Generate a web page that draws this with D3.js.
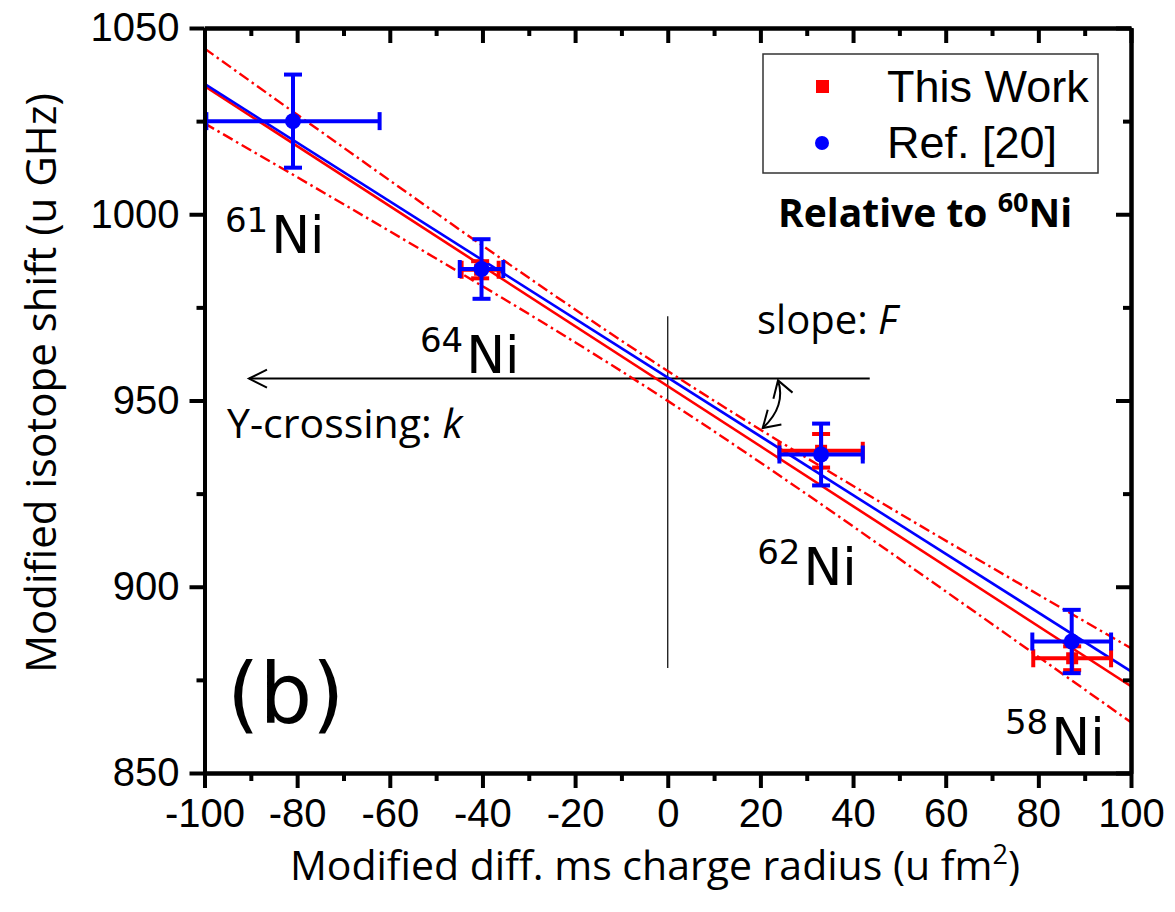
<!DOCTYPE html>
<html>
<head>
<meta charset="utf-8">
<script src="https://cdn.jsdelivr.net/npm/d3@7"></script>
<style>
  html, body { margin: 0; padding: 0; background: #fff; }
  svg { display: block; }
</style>
</head>
<body>
<svg id="chart" width="1175" height="912"></svg>
<script>
// ---- data ----------------------------------------------------------------
// This work (red squares): 64Ni, 62Ni, 58Ni
const workX    = [-40.5, 33.1, 87.3];
const workY    = [985.1, 936.5, 880.8];
const workXErr = [4.0, 9.0, 8.4];
const workYErr = [2.3, 4.5, 3.2];

// Ref. [20] (blue circles): 61Ni, 64Ni, 62Ni, 58Ni
const refX    = [-80.9, -40.2, 33.1, 87.2];
const refY    = [1025.0, 985.3, 935.5, 885.3];
const refXErr = [18.7, 4.7, 9.0, 8.5];
const refYErr = [12.5, 8.0, 8.3, 8.5];

// Linear fits, evaluated at the ends of the x range
const fitX     = [-100, 100];
const workFitY = [1034.4, 873.3];
const refFitY  = [1035.0, 877.3];

// Confidence band of the "This work" fit
const bandX     = [-100, -50, 0, 50, 100];
const bandUpper = [1044.5, 1000.3, 957.9, 919.7, 883.5];
const bandLower = [1024.4, 988.1, 949.9, 907.5, 863.6];

// Isotope labels: mass number and baseline anchor (data coords)
const isoMass   = ["61", "64", "62", "58"];
const isoLabelX = [-95.6, -53.5, 19.3, 72.8];
const isoLabelY = [989.6, 957.4, 900.5, 854.8];

// Axis ticks
const xTicks = [-100, -80, -60, -40, -20, 0, 20, 40, 60, 80, 100];
const xMinor = [-90, -70, -50, -30, -10, 10, 30, 50, 70, 90];
const yTicks = [850, 900, 950, 1000, 1050];
const yMinor = [875, 925, 975, 1025];

// Annotation geometry (data coords)
const crossY = 955.9;
const crossLineX = [43.6, -90.4];
const vertLineY = [972.6, 878.2];
const slopeArrowX = [23.8, 20.5];
const slopeArrowY = [955.4, 942.6];

// ---- layout --------------------------------------------------------------
const svg = d3.select("#chart");
const pLeft = 204.5, pRight = 1131, pTop = 28, pBottom = 773;
const x = d3.scaleLinear().domain([-100, 100]).range([pLeft, pRight]);
const y = d3.scaleLinear().domain([850, 1050]).range([pBottom, pTop]);

const RED = "#ff0000", BLUE = "#0000ff";
const tickFont = "'Liberation Sans', Arial, sans-serif";
const textFont = "'Open Sans', sans-serif";
const isoFont = "'DejaVu Sans', sans-serif";

const defs = svg.append("defs");
defs.append("clipPath").attr("id", "plotClip")
  .append("rect").attr("x", pLeft).attr("y", pTop)
  .attr("width", pRight - pLeft).attr("height", pBottom - pTop);

// ---- annotations: axis-crossing lines and slope arrow --------------------
defs.append("marker").attr("id", "chev")
  .attr("markerUnits", "userSpaceOnUse")
  .attr("viewBox", "-22 -12 26 24").attr("refX", 0).attr("refY", 0)
  .attr("markerWidth", 26).attr("markerHeight", 24)
  .attr("orient", "auto")
  .append("path").attr("d", "M-18,-9 L0,0 L-18,9")
  .attr("fill", "none").attr("stroke", "#000").attr("stroke-width", 2);

const ann = svg.append("g");
ann.append("line")
  .attr("x1", x(crossLineX[0])).attr("x2", x(crossLineX[1]))
  .attr("y1", y(crossY)).attr("y2", y(crossY))
  .attr("stroke", "#000").attr("stroke-width", 2)
  .attr("marker-end", "url(#chev)");
ann.append("line")
  .attr("x1", x(0)).attr("x2", x(0))
  .attr("y1", y(vertLineY[0])).attr("y2", y(vertLineY[1]))
  .attr("stroke", "#000").attr("stroke-width", 1.2);

// curved double arrow between the horizontal line and the fit
const p0 = [x(slopeArrowX[0]), y(slopeArrowY[0])];
const p1 = [x(slopeArrowX[1]), y(slopeArrowY[1])];
const ctrl = [(p0[0] + p1[0]) / 2 + 16, (p0[1] + p1[1]) / 2 + 2];
ann.append("path")
  .attr("d", `M${p0[0]},${p0[1]} Q${ctrl[0]},${ctrl[1]} ${p1[0]},${p1[1]}`)
  .attr("fill", "none").attr("stroke", "#000").attr("stroke-width", 2);
function chevron(tip, from) {
  const dx = tip[0] - from[0], dy = tip[1] - from[1];
  const len = Math.hypot(dx, dy), ux = dx / len, uy = dy / len;
  const L = 19, a = 32 * Math.PI / 180;
  const arm = s => {
    const c = Math.cos(s * a), sn = Math.sin(s * a);
    const rx = ux * c - uy * sn, ry = ux * sn + uy * c;
    return [tip[0] - L * rx, tip[1] - L * ry];
  };
  const l = arm(1), r = arm(-1);
  ann.append("path").attr("d", `M${l[0]},${l[1]} L${tip[0]},${tip[1]} L${r[0]},${r[1]}`)
    .attr("fill", "none").attr("stroke", "#000").attr("stroke-width", 2);
}
chevron(p0, ctrl);
chevron(p1, ctrl);

// ---- fits and band -------------------------------------------------------
const plot = svg.append("g").attr("clip-path", "url(#plotClip)");
const bandLine = d3.line().curve(d3.curveNatural)
  .x((d, i) => x(bandX[i])).y(d => y(d));
[bandUpper, bandLower].forEach(b => {
  plot.append("path").attr("d", bandLine(b))
    .attr("fill", "none").attr("stroke", RED).attr("stroke-width", 2.4)
    .attr("stroke-dasharray", "11 4 2.5 4");
});
const fitLine = d3.line().x((d, i) => x(fitX[i])).y(d => y(d));
plot.append("path").attr("d", fitLine(workFitY))
  .attr("fill", "none").attr("stroke", RED).attr("stroke-width", 2.6);
plot.append("path").attr("d", fitLine(refFitY))
  .attr("fill", "none").attr("stroke", BLUE).attr("stroke-width", 2.6);

// ---- error bars and markers ----------------------------------------------
function errorBars(g, xs, ys, xe, ye, color) {
  const cap = 9;
  xs.forEach((xv, i) => {
    const cx = x(xv), cy = y(ys[i]);
    const xl = x(xv - xe[i]), xr = x(xv + xe[i]);
    const yt = y(ys[i] + ye[i]), yb = y(ys[i] - ye[i]);
    const s = g.append("g").attr("stroke", color).attr("stroke-width", 4).attr("fill", "none");
    s.append("line").attr("x1", xl).attr("x2", xr).attr("y1", cy).attr("y2", cy);
    s.append("line").attr("x1", cx).attr("x2", cx).attr("y1", yt).attr("y2", yb);
    s.append("line").attr("x1", xl).attr("x2", xl).attr("y1", cy - cap).attr("y2", cy + cap);
    s.append("line").attr("x1", xr).attr("x2", xr).attr("y1", cy - cap).attr("y2", cy + cap);
    s.append("line").attr("x1", cx - cap).attr("x2", cx + cap).attr("y1", yt).attr("y2", yt);
    s.append("line").attr("x1", cx - cap).attr("x2", cx + cap).attr("y1", yb).attr("y2", yb);
  });
}
const marks = svg.append("g");
errorBars(marks, workX, workY, workXErr, workYErr, RED);
marks.selectAll("rect.work").data(workX).join("rect").attr("class", "work")
  .attr("x", (d) => x(d) - 6).attr("y", (d, i) => y(workY[i]) - 6)
  .attr("width", 12).attr("height", 12).attr("fill", RED);
errorBars(marks, refX, refY, refXErr, refYErr, BLUE);
marks.selectAll("circle.ref").data(refX).join("circle").attr("class", "ref")
  .attr("cx", d => x(d)).attr("cy", (d, i) => y(refY[i])).attr("r", 8)
  .attr("fill", BLUE);

// ---- axes ----------------------------------------------------------------
function styleAxis(g) {
  g.select(".domain").attr("stroke", "#000").attr("stroke-width", 4);
  g.selectAll(".tick line").attr("stroke", "#000").attr("stroke-width", 4);
  g.selectAll("text").attr("font-family", tickFont).attr("font-size", 40).attr("fill", "#000");
}
const fmt = d => String(d);

// bottom: outward ticks with labels
svg.append("g").attr("transform", `translate(0,${pBottom})`)
  .call(d3.axisBottom(x).tickValues(xTicks).tickFormat(fmt).tickSizeInner(15).tickSizeOuter(0).tickPadding(11))
  .call(styleAxis);
svg.append("g").attr("transform", `translate(0,${pBottom})`)
  .call(d3.axisBottom(x).tickValues(xMinor).tickFormat("").tickSizeInner(8).tickSizeOuter(0))
  .call(styleAxis);
// top: inward ticks
svg.append("g").attr("transform", `translate(0,${pTop})`)
  .call(d3.axisBottom(x).tickValues(xTicks).tickFormat("").tickSizeInner(15).tickSizeOuter(0))
  .call(styleAxis);
svg.append("g").attr("transform", `translate(0,${pTop})`)
  .call(d3.axisBottom(x).tickValues(xMinor).tickFormat("").tickSizeInner(8).tickSizeOuter(0))
  .call(styleAxis);
// left: outward ticks with labels
svg.append("g").attr("transform", `translate(${pLeft},0)`)
  .call(d3.axisLeft(y).tickValues(yTicks).tickFormat(fmt).tickSizeInner(15).tickSizeOuter(0).tickPadding(10))
  .call(styleAxis);
svg.append("g").attr("transform", `translate(${pLeft},0)`)
  .call(d3.axisLeft(y).tickValues(yMinor).tickFormat("").tickSizeInner(8).tickSizeOuter(0))
  .call(styleAxis);
// right: inward ticks
svg.append("g").attr("transform", `translate(${pRight},0)`)
  .call(d3.axisLeft(y).tickValues(yTicks).tickFormat("").tickSizeInner(15).tickSizeOuter(0))
  .call(styleAxis);
svg.append("g").attr("transform", `translate(${pRight},0)`)
  .call(d3.axisLeft(y).tickValues(yMinor).tickFormat("").tickSizeInner(8).tickSizeOuter(0))
  .call(styleAxis);

// ---- axis titles ---------------------------------------------------------
const xt = svg.append("text").attr("x", 655).attr("y", 880)
  .attr("text-anchor", "middle").attr("font-family", textFont)
  .attr("font-size", 41).attr("fill", "#000");
xt.append("tspan").text("Modified diff. ms charge radius (u fm");
xt.append("tspan").attr("font-size", 27).attr("dy", -16).text("2");
xt.append("tspan").attr("dy", 16).text(")");

svg.append("text").attr("transform", "translate(56,383) rotate(-90)")
  .attr("text-anchor", "middle").attr("font-family", textFont)
  .attr("font-size", 42).attr("fill", "#000")
  .text("Modified isotope shift (u GHz)");

// ---- isotope labels ------------------------------------------------------
isoMass.forEach((m, i) => {
  const t = svg.append("text").attr("x", x(isoLabelX[i])).attr("y", y(isoLabelY[i]))
    .attr("font-family", isoFont).attr("fill", "#000");
  t.append("tspan").attr("font-size", 34).attr("dy", -21).text(m);
  t.append("tspan").attr("font-size", 52).attr("dy", 21).attr("dx", 3).text("Ni");
});

// ---- text annotations ----------------------------------------------------
svg.append("text").attr("x", 227).attr("y", 723)
  .attr("font-family", isoFont).attr("font-size", 83).attr("fill", "#000").text("(b)");

const yc = svg.append("text").attr("x", 227).attr("y", 438)
  .attr("font-family", textFont).attr("font-size", 41).attr("fill", "#000");
yc.append("tspan").text("Y-crossing: ");
yc.append("tspan").attr("font-style", "italic").text("k");

const sl = svg.append("text").attr("x", 757).attr("y", 334)
  .attr("font-family", textFont).attr("font-size", 40).attr("fill", "#000");
sl.append("tspan").text("slope: ");
sl.append("tspan").attr("font-style", "italic").text("F");

const rel = svg.append("text").attr("x", 778).attr("y", 227)
  .attr("font-family", textFont).attr("font-weight", "bold")
  .attr("font-size", 39).attr("fill", "#000");
rel.append("tspan").text("Relative to ");
rel.append("tspan").attr("font-size", 27).attr("dy", -15).text("60");
rel.append("tspan").attr("dy", 15).text("Ni");

// ---- legend --------------------------------------------------------------
const lg = svg.append("g");
lg.append("rect").attr("x", 763).attr("y", 54).attr("width", 335).attr("height", 119)
  .attr("fill", "#fff").attr("stroke", "#333").attr("stroke-width", 1.5);
lg.append("rect").attr("x", 816).attr("y", 80).attr("width", 13).attr("height", 13).attr("fill", RED);
lg.append("circle").attr("cx", 822).attr("cy", 143).attr("r", 7).attr("fill", BLUE);
lg.append("text").attr("x", 887).attr("y", 102).attr("font-family", tickFont)
  .attr("font-size", 45).attr("fill", "#000").text("This Work");
lg.append("text").attr("x", 887).attr("y", 158).attr("font-family", tickFont)
  .attr("font-size", 45).attr("fill", "#000").text("Ref. [20]");
</script>
</body>
</html>
